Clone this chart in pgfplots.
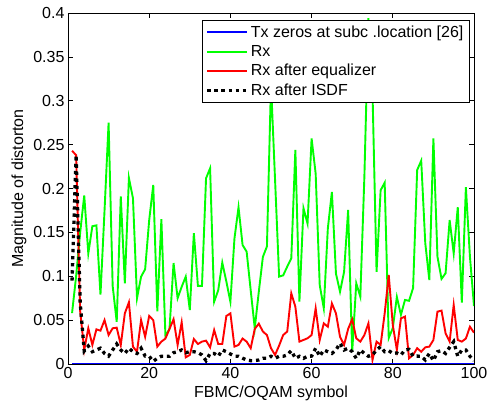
\documentclass[border=0pt]{standalone}
\usepackage{pgfplots}
\pgfplotsset{compat=1.18}
\usepackage{fontspec}
\setmainfont{Liberation Sans}

\pgfplotstableread{
x green red black
1 0.058 0.243 0.095
2 0.100 0.238 0.238
3 0.150 0.060 0.070
4 0.192 0.016 0.0148
5 0.126 0.0407 0.0205
6 0.157 0.0217 0.014
7 0.158 0.0395 0.016
8 0.079 0.038 0.018
9 0.175 0.050 0.012
10 0.275 0.033 0.009
11 0.089 0.0407 0.016
12 0.048 0.0414 0.0228
13 0.191 0.0217 0.016
14 0.092 0.0577 0.012
15 0.212 0.0703 0.018
16 0.189 0.0198 0.014
17 0.075 0.014 0.012
18 0.0995 0.050 0.018
19 0.108 0.031 0.009
20 0.164 0.0547 0.0088
21 0.204 0.050 0.003
22 0.060 0.0198 0.0065
23 0.165 0.0255 0.0088
24 0.032 0.029 0.0088
25 0.040 0.040 0.0088
26 0.115 0.051 0.0129
27 0.075 0.0217 0.014
28 0.088 0.0475 0.016
29 0.0995 0.0076 0.0129
30 0.0615 0.0103 0.014
31 0.149 0.0285 0.014
32 0.089 0.0228 0.013
33 0.089 0.0255 0.0103
34 0.2116 0.0266 0.0038
35 0.223 0.019 0.012
36 0.071 0.0387 0.012
37 0.084 0.0228 0.0088
38 0.1155 0.0228 0.016
39 0.094 0.0547 0.014
40 0.071 0.0577 0.0114
41 0.143 0.0198 0.009
42 0.1786 0.0217 0.0088
43 0.1356 0.029 0.0066
44 0.128 0.0255 0.0046
45 0.084 0.018 0.0038
46 0.0407 0.040 0.0038
47 0.0824 0.046 0.0046
48 0.122 0.037 0.0065
49 0.134 0.033 0.0065
50 0.320 0.018 0.0088
51 0.210 0.0103 0.0065
52 0.0996 0.021 0.0088
53 0.101 0.033 0.0088
54 0.111 0.037 0.0103
55 0.1205 0.0805 0.0152
56 0.244 0.0653 0.0065
57 0.071 0.0255 0.0088
58 0.1775 0.0274 0.0065
59 0.160 0.0293 0.0088
60 0.257 0.033 0.009
61 0.217 0.0634 0.018
62 0.090 0.0274 0.0088
63 0.0635 0.0463 0.016
64 0.1546 0.0425 0.014
65 0.196 0.069 0.012
66 0.103 0.0577 0.016
67 0.0824 0.031 0.0236
68 0.105 0.0217 0.016
69 0.1755 0.040 0.018
70 0.014 0.051 0.014
71 0.092 0.0293 0.0065
72 0.0767 0.0255 0.016
73 0.2134 0.033 0.012
74 0.394 0.0463 0.0088
75 0.310 0.0046 0.0103
76 0.105 0.0255 0.016
77 0.198 0.0217 0.0198
78 0.2066 0.0577 0.014
79 0.0296 0.1014 0.0152
80 0.041 0.0444 0.012
81 0.0764 0.016 0.0126
82 0.056 0.052 0.0103
83 0.073 0.054 0.016
84 0.072 0.0065 0.0167
85 0.0866 0.0103 0.0088
86 0.221 0.018 0.009
87 0.2317 0.014 0.0088
88 0.1375 0.019 0.0046
89 0.0957 0.0198 0.012
90 0.257 0.0274 0.0038
91 0.1223 0.0597 0.014
92 0.097 0.0608 0.0152
93 0.1034 0.035 0.012
94 0.164 0.0255 0.019
95 0.126 0.0672 0.0255
96 0.1786 0.0274 0.0088
97 0.070 0.0255 0.016
98 0.2014 0.029 0.016
99 0.1223 0.0425 0.0088
100 0.066 0.0357 0.0038
}\datatable

\pgfplotstableread{
x y
1 0
100 0
}\bluetable

\begin{document}
\begin{tikzpicture}
\useasboundingbox (-68pt,-43pt) rectangle (420pt,364pt);
\begin{axis}[
  at={(0pt,0pt)}, anchor=south west,
  scale only axis, width=406pt, height=351pt,
  xmin=0, xmax=100, ymin=0, ymax=0.4,
  xtick={0,20,40,60,80,100}, xticklabels={0,20,40,60,80,100},
  ytick={0,0.05,0.1,0.15,0.2,0.25,0.3,0.35,0.4},
  yticklabels={0,0.05,0.1,0.15,0.2,0.25,0.3,0.35,0.4},
  scaled y ticks=false,
  tick align=inside, tick pos=both,
  major tick length=5pt,
  tick style={line width=0.7pt, black},
  ticklabel style={font=\fontsize{16}{19}\selectfont},
  label style={font=\fontsize{16}{19}\selectfont},
  xlabel={FBMC/OQAM symbol}, ylabel={Magnitude of distorton},
  axis line style={line width=0.8pt},
  legend style={at={(rel axis cs:0.988,0.98)}, anchor=north east,
    font=\fontsize{16}{19}\selectfont, draw=black,
    fill=white, inner sep=3.5pt, row sep=2.5pt, cells={anchor=west}},
  legend image code/.code={\draw[#1] (0pt,0pt) -- (40pt,0pt);},
]
\addplot[color={rgb,255:red,0;green,0;blue,255}, line width=1.9pt] table[x=x,y=y] {\bluetable};
\addlegendentry{Tx zeros at subc .location [26]}
\addplot[color={rgb,255:red,0;green,255;blue,0}, line width=1.9pt] table[x=x,y=green] {\datatable};
\addlegendentry{Rx}
\addplot[color={rgb,255:red,255;green,0;blue,0}, line width=1.9pt] table[x=x,y=red] {\datatable};
\addlegendentry{Rx after equalizer}
\addplot[black, line width=3.3pt, dash pattern=on 3.3pt off 3.8pt] table[x=x,y=black] {\datatable};
\addlegendentry{Rx after ISDF}
\end{axis}
\end{tikzpicture}
\end{document}
